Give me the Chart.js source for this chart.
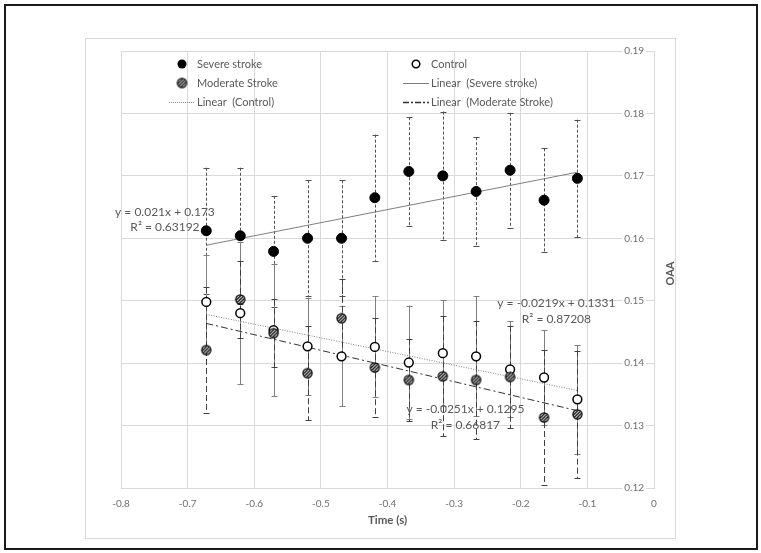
<!DOCTYPE html>
<html>
<head>
<meta charset="utf-8">
<script src="https://cdn.jsdelivr.net/npm/chart.js@4/dist/chart.umd.min.js"></script>
<style>
    body { margin: 0; background: #fff; }
    #frame { position: absolute; left: 4px; top: 4px; width: 750px; height: 542px; border: 2px solid #1a1a1a; }
    #oaaChart { position: absolute; left: 85px; top: 38px; }
</style>
</head>
<body>
<div id="frame"></div>
<canvas id="oaaChart" width="591" height="501"></canvas>
<script>
// time of each sample (s)
const timeS = [-0.672, -0.621, -0.571, -0.520, -0.469, -0.419, -0.368, -0.317, -0.267, -0.216, -0.165, -0.115];

const severe = [0.1612, 0.1604, 0.1579, 0.1600, 0.1600, 0.1665, 0.1707, 0.1700, 0.1675, 0.1709, 0.1661, 0.1696];
const severeErr = [0.0101, 0.0109, 0.0089, 0.0093, 0.0093, 0.0101, 0.0087, 0.0103, 0.0087, 0.0092, 0.0083, 0.0094];

const control = [0.1498, 0.1480, 0.1453, 0.1427, 0.1411, 0.1426, 0.1401, 0.1416, 0.1411, 0.1390, 0.1377, 0.1342];
const controlErr = [0.0076, 0.0114, 0.0106, 0.0078, 0.0080, 0.0081, 0.0091, 0.0085, 0.0096, 0.0077, 0.0076, 0.0087];

const moderate = [0.1421, 0.1502, 0.1448, 0.1384, 0.1472, 0.1393, 0.1373, 0.1379, 0.1373, 0.1378, 0.1313, 0.1318];
const moderateErr = [0.0101, 0.0062, 0.0054, 0.0075, 0.0063, 0.0079, 0.0066, 0.0096, 0.0095, 0.0082, 0.0108, 0.0102];

// linear fits [slope, intercept] and R² as printed on the chart
const severeFit = [0.021, 0.173];
const controlFit = [-0.0219, 0.1331];
const moderateFit = [-0.0251, 0.1295];
const severeR2 = '0.63192';
const controlR2 = '0.87208';
const moderateR2 = '0.66817';

const xTicks = [-0.8, -0.7, -0.6, -0.5, -0.4, -0.3, -0.2, -0.1, 0];
const yTicks = [0.12, 0.13, 0.14, 0.15, 0.16, 0.17, 0.18, 0.19];

const FONT = 'Lato, "Open Sans", sans-serif';
const TEXT = '#595959';

function points(ys) {
    return timeS.map((t, i) => ({ x: t, y: ys[i] }));
}

function fitLine(fit) {
    const first = timeS[0];
    const last = timeS[timeS.length - 1];
    return [
        { x: first, y: fit[0] * first + fit[1] },
        { x: last, y: fit[0] * last + fit[1] }
    ];
}

function fitLabel(fit) {
    const m = fit[0] < 0 ? '-' + Math.abs(fit[0]) : String(fit[0]);
    return 'y = ' + m + 'x + ' + fit[1];
}

// hatched circle used for the moderate stroke group
function makeHatchMarker(r) {
    const size = Math.ceil(r * 2 + 3);
    const c = document.createElement('canvas');
    c.width = size;
    c.height = size;
    const g = c.getContext('2d');
    const mid = size / 2;
    g.save();
    g.beginPath();
    g.arc(mid, mid, r, 0, Math.PI * 2);
    g.fillStyle = '#fff';
    g.fill();
    g.clip();
    g.strokeStyle = '#111';
    g.lineWidth = 1.4;
    for (let k = -size; k < size * 2; k += 3.2) {
        g.beginPath();
        g.moveTo(k, size);
        g.lineTo(k + size, 0);
        g.stroke();
    }
    g.restore();
    g.beginPath();
    g.arc(mid, mid, r, 0, Math.PI * 2);
    g.strokeStyle = '#000';
    g.lineWidth = 1.2;
    g.stroke();
    return c;
}

const hatchMarker = makeHatchMarker(4.6);

const errorSets = [
    { values: severe, errors: severeErr, color: '#505050', dash: [3, 2] },
    { values: control, errors: controlErr, color: '#808080', dash: [] },
    { values: moderate, errors: moderateErr, color: '#404040', dash: [6, 3] }
];

const errorBars = {
    id: 'errorBars',
    beforeDatasetsDraw(chart) {
        const { ctx, scales: { x, y } } = chart;
        ctx.save();
        ctx.lineWidth = 1;
        errorSets.forEach(set => {
            ctx.strokeStyle = set.color;
            ctx.setLineDash(set.dash);
            set.values.forEach((v, i) => {
                const px = Math.round(x.getPixelForValue(timeS[i])) + 0.5;
                const top = y.getPixelForValue(v + set.errors[i]);
                const bottom = y.getPixelForValue(v - set.errors[i]);
                ctx.beginPath();
                ctx.moveTo(px, top);
                ctx.lineTo(px, bottom);
                ctx.stroke();
                ctx.save();
                ctx.setLineDash([]);
                ctx.beginPath();
                ctx.moveTo(px - 3, Math.round(top) + 0.5);
                ctx.lineTo(px + 3, Math.round(top) + 0.5);
                ctx.moveTo(px - 3, Math.round(bottom) + 0.5);
                ctx.lineTo(px + 3, Math.round(bottom) + 0.5);
                ctx.stroke();
                ctx.restore();
            });
        });
        ctx.restore();
    }
};

// legend, fit equations, box and right-hand axis title
const decorations = {
    id: 'decorations',
    beforeDraw(chart) {
        const { ctx, width, height } = chart;
        ctx.save();
        ctx.fillStyle = '#fff';
        ctx.fillRect(0, 0, width, height);
        ctx.strokeStyle = '#d9d9d9';
        ctx.lineWidth = 1;
        ctx.strokeRect(0.5, 0.5, width - 1, height - 1);
        ctx.restore();
    },
    afterDraw(chart) {
        const { ctx, chartArea, scales: { x, y } } = chart;
        ctx.save();

        // legend
        const l = chartArea.left;
        const t = chartArea.top;
        const rows = [t + 13, t + 32, t + 51];
        ctx.font = '11px ' + FONT;
        ctx.fillStyle = TEXT;
        ctx.textBaseline = 'middle';
        ctx.textAlign = 'left';

        ctx.beginPath();
        ctx.arc(l + 61, rows[0], 4.5, 0, Math.PI * 2);
        ctx.fillStyle = '#000';
        ctx.fill();
        ctx.fillStyle = TEXT;
        ctx.fillText('Severe stroke', l + 76, rows[0]);

        ctx.drawImage(hatchMarker, l + 61 - hatchMarker.width / 2, rows[1] - hatchMarker.height / 2);
        ctx.fillText('Moderate Stroke', l + 76, rows[1]);

        ctx.strokeStyle = '#8a8a8a';
        ctx.lineWidth = 1;
        ctx.setLineDash([1, 1]);
        ctx.beginPath();
        ctx.moveTo(l + 48, rows[2] + 0.5);
        ctx.lineTo(l + 74, rows[2] + 0.5);
        ctx.stroke();
        ctx.setLineDash([]);
        ctx.fillText('Linear  (Control)', l + 76, rows[2]);

        const c2 = l + 295;
        ctx.beginPath();
        ctx.arc(c2, rows[0], 3.8, 0, Math.PI * 2);
        ctx.fillStyle = '#fff';
        ctx.fill();
        ctx.strokeStyle = '#000';
        ctx.lineWidth = 1.5;
        ctx.stroke();
        ctx.fillStyle = TEXT;
        ctx.fillText('Control', c2 + 15, rows[0]);

        ctx.strokeStyle = '#7f7f7f';
        ctx.lineWidth = 1;
        ctx.beginPath();
        ctx.moveTo(c2 - 13, rows[1] + 0.5);
        ctx.lineTo(c2 + 13, rows[1] + 0.5);
        ctx.stroke();
        ctx.fillText('Linear  (Severe stroke)', c2 + 15, rows[1]);

        ctx.strokeStyle = '#333';
        ctx.lineWidth = 1.5;
        ctx.setLineDash([6, 2, 2, 2]);
        ctx.beginPath();
        ctx.moveTo(c2 - 13, rows[2] + 0.5);
        ctx.lineTo(c2 + 13, rows[2] + 0.5);
        ctx.stroke();
        ctx.setLineDash([]);
        ctx.fillText('Linear  (Moderate Stroke)', c2 + 15, rows[2]);

        // fit equations
        ctx.font = '12px ' + FONT;
        ctx.fillStyle = TEXT;
        ctx.textAlign = 'center';
        const eq = [
            { fit: severeFit, r2: severeR2, at: [-0.734, 0.1642] },
            { fit: controlFit, r2: controlR2, at: [-0.1465, 0.1496] },
            { fit: moderateFit, r2: moderateR2, at: [-0.283, 0.1326] }
        ];
        eq.forEach(e => {
            const ex = x.getPixelForValue(e.at[0]);
            const ey = y.getPixelForValue(e.at[1]);
            ctx.fillText(fitLabel(e.fit), ex, ey);
            ctx.fillText('R\u00B2 = ' + e.r2, ex, ey + 15.5);
        });

        // vertical axis title, reading bottom to top
        ctx.font = 'bold 11px ' + FONT;
        ctx.fillStyle = TEXT;
        ctx.translate(chartArea.right + 16, (chartArea.top + chartArea.bottom) / 2 + 4);
        ctx.rotate(-Math.PI / 2);
        ctx.fillText('OAA', 0, 0);
        ctx.restore();
    }
};

new Chart(document.getElementById('oaaChart'), {
    type: 'scatter',
    data: {
        datasets: [
            {
                label: 'Severe stroke',
                data: points(severe),
                pointStyle: 'circle',
                pointRadius: 5,
                backgroundColor: '#000',
                borderColor: '#000',
                borderWidth: 1,
                order: 1
            },
            {
                label: 'Control',
                data: points(control),
                pointStyle: 'circle',
                pointRadius: 4.4,
                backgroundColor: '#fff',
                borderColor: '#000',
                borderWidth: 1.5,
                order: 3
            },
            {
                label: 'Moderate Stroke',
                data: points(moderate),
                pointStyle: hatchMarker,
                order: 2
            },
            {
                label: 'Linear  (Severe stroke)',
                data: fitLine(severeFit),
                showLine: true,
                pointRadius: 0,
                borderColor: '#7f7f7f',
                borderWidth: 1,
                order: 4
            },
            {
                label: 'Linear  (Control)',
                data: fitLine(controlFit),
                showLine: true,
                pointRadius: 0,
                borderColor: '#7f7f7f',
                borderWidth: 1,
                borderDash: [1, 1.5],
                order: 4
            },
            {
                label: 'Linear  (Moderate Stroke)',
                data: fitLine(moderateFit),
                showLine: true,
                pointRadius: 0,
                borderColor: '#333',
                borderWidth: 1,
                borderDash: [7, 3, 2, 3],
                order: 4
            }
        ]
    },
    options: {
        responsive: false,
        animation: false,
        events: [],
        layout: { padding: { left: 36, top: 13, right: 0, bottom: 0 } },
        plugins: {
            legend: { display: false },
            tooltip: { enabled: false }
        },
        scales: {
            x: {
                type: 'linear',
                position: 'bottom',
                min: xTicks[0],
                max: xTicks[xTicks.length - 1],
                afterBuildTicks: scale => { scale.ticks = xTicks.map(v => ({ value: v })); },
                afterFit: scale => { scale.height = 51; },
                grid: { color: '#d9d9d9', drawTicks: false },
                border: { color: '#d9d9d9' },
                ticks: {
                    padding: 10,
                    color: '#6e6e6e',
                    font: { family: FONT, size: 10 },
                    callback: v => String(Number(v.toFixed(1)))
                },
                title: {
                    display: true,
                    text: 'Time (s)',
                    color: TEXT,
                    font: { family: FONT, size: 11.5, weight: 'bold' },
                    padding: { top: 0, bottom: 12 }
                }
            },
            y: {
                type: 'linear',
                position: 'right',
                min: yTicks[0],
                max: yTicks[yTicks.length - 1],
                afterBuildTicks: scale => { scale.ticks = yTicks.map(v => ({ value: v })); },
                afterFit: scale => { scale.width = 22; },
                grid: { color: '#d9d9d9', drawTicks: false },
                border: { color: '#d9d9d9' },
                ticks: {
                    mirror: true,
                    padding: -10,
                    color: '#6e6e6e',
                    font: { family: FONT, size: 10 },
                    showLabelBackdrop: true,
                    backdropColor: '#fff',
                    backdropPadding: 2,
                    callback: v => v.toFixed(2)
                }
            }
        }
    },
    plugins: [decorations, errorBars]
});
</script>
</body>
</html>
